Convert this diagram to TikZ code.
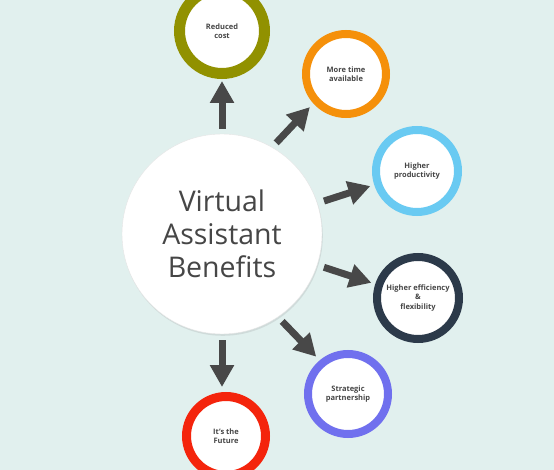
\documentclass[tikz,border=0pt]{standalone}
\usepackage{fontspec}
\setmainfont{Open Sans}
\usetikzlibrary{arrows.meta,shadows}
\definecolor{bgc}{RGB}{225,240,238}
\definecolor{txt}{RGB}{70,70,70}
\definecolor{arr}{RGB}{72,72,72}
\definecolor{cOlive}{RGB}{145,145,0}
\definecolor{cOrange}{RGB}{245,144,10}
\definecolor{cSky}{RGB}{105,202,242}
\definecolor{cNavy}{RGB}{44,58,74}
\definecolor{cViolet}{RGB}{112,112,238}
\definecolor{cRed}{RGB}{244,36,12}
\tikzset{
  benefit/.style={circle, fill=white, inner sep=0pt, align=center, text=txt,
    font=\fontsize{7.5}{9.5}\selectfont\bfseries,
    drop shadow={shadow xshift=0.6pt, shadow yshift=-1.6pt, opacity=0.22}},
  hub/.style={circle, fill=white, draw=black!10, line width=0.4pt, minimum size=200pt,
    inner sep=0pt, align=center, text=txt,
    font=\fontsize{28.5}{33}\selectfont,
    drop shadow={shadow xshift=0.8pt, shadow yshift=-1.8pt, opacity=0.18}},
  bigarrow/.style={draw=arr, line width=7pt, -{Triangle[width=23pt,length=22pt]}}
}
\begin{document}
\begin{tikzpicture}[x=1pt,y=-1pt]
\fill[bgc] (0,0) rectangle (554,470);
\useasboundingbox (0,0) rectangle (554,470);
\node[hub] (C) at (222,234) {Virtual\\Assistant\\Benefits};
\node[benefit, draw=cOlive, line width=11pt, minimum size=85pt] (A) at (222,31) {Reduced\\cost};
\node[benefit, draw=cOrange, line width=8pt, minimum size=80pt] (B) at (346,74) {More time\\available};
\node[benefit, draw=cSky, line width=8pt, minimum size=82pt] (D) at (417,171) {Higher\\productivity};
\node[benefit, draw=cNavy, line width=8pt, minimum size=82pt] (E) at (418,298) {Higher efficiency\\\&\\flexibility};
\node[benefit, draw=cViolet, line width=8pt, minimum size=80pt] (F) at (348,394) {Strategic\\partnership};
\node[benefit, draw=cRed, line width=9pt, minimum size=79pt] (G) at (226,436) {It’s the\\Future};
\draw[bigarrow, shorten <=5pt, shorten >=2pt] (C.90) -- (A.-90);
\draw[bigarrow, shorten <=6pt, shorten >=5pt] (C.60) -- (B.222);
\draw[bigarrow, shorten <=7pt, shorten >=4pt] (C) -- (D);
\draw[bigarrow, shorten <=7pt, shorten >=4pt] (C) -- (E);
\draw[bigarrow, shorten <=6pt, shorten >=5pt] (C.-56) -- (F.130);
\draw[bigarrow, shorten <=6pt, shorten >=5pt] (C.-90) -- (C.-90 |- G.north);
\end{tikzpicture}
\end{document}
